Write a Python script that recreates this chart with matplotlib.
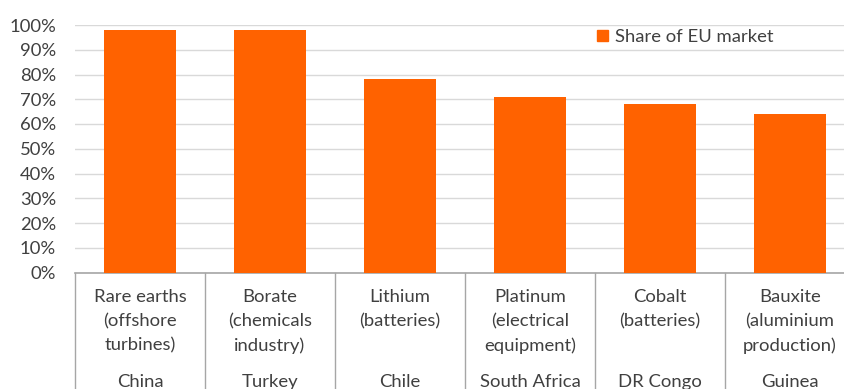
import matplotlib
matplotlib.use("Agg")
import matplotlib.pyplot as plt
from matplotlib.patches import Patch

materials = ["Rare earths\n(offshore\nturbines)", "Borate\n(chemicals\nindustry)",
             "Lithium\n(batteries)", "Platinum\n(electrical\nequipment)",
             "Cobalt\n(batteries)", "Bauxite\n(aluminium\nproduction)"]
countries = ["China", "Turkey", "Chile", "South Africa", "DR Congo", "Guinea"]
share = [98, 98, 78, 71, 68, 64]
yticks = list(range(0, 101, 10))

ORANGE = "#ff6200"
TEXT = "#404040"
GRID = "#d9d9d9"
AXIS = "#a6a6a6"
FS = 13.3

plt.rcParams["font.family"] = ["Lato", "DejaVu Sans"]

W, H = 844, 389
fig = plt.figure(figsize=(W / 100, H / 100), dpi=100)
left, right_px, top_px, bottom_px = 75, 855, 25, 272.5
ax = fig.add_axes([left / W, (H - bottom_px) / H, (right_px - left) / W, (bottom_px - top_px) / H])

x = list(range(len(share)))
ax.bar(x, share, width=0.55, color=ORANGE, zorder=3)
ax.set_xlim(-0.5, len(share) - 0.5)
ax.set_ylim(0, 100)
ax.set_yticks(yticks)
ax.set_yticklabels([f"{v}%" for v in yticks], fontsize=FS, color=TEXT)
ax.yaxis.grid(True, color=GRID, linewidth=1, zorder=0)
ax.tick_params(axis="y", length=0, pad=13.5)
ax.tick_params(axis="x", length=0, labelbottom=False)
for s in ["top", "right", "left"]:
    ax.spines[s].set_visible(False)
ax.spines["bottom"].set_color(AXIS)
ax.spines["bottom"].set_linewidth(1.2)

# category table below the axis
trans = ax.get_xaxis_transform()
for b in [i - 0.5 for i in range(len(share) + 1)]:
    ax.plot([b, b], [0, -0.6], color=AXIS, linewidth=1, transform=trans, clip_on=False)
px = 1.0 / (bottom_px - top_px)
for i, (m, c) in enumerate(zip(materials, countries)):
    ax.text(i, -(289 - bottom_px) * px, m, transform=trans, ha="center", va="top",
            fontsize=FS, color=TEXT, linespacing=1.62)
    ax.text(i, -(374 - bottom_px) * px, c, transform=trans, ha="center", va="top",
            fontsize=FS, color=TEXT)

ax.legend(handles=[Patch(color=ORANGE, label="Share of EU market")], loc="upper left",
          bbox_to_anchor=((597 - left) / (right_px - left), 1.0 - (29 - top_px) * px),
          frameon=False, fontsize=FS, handlelength=0.6, handleheight=0.6,
          handletextpad=0.4, borderaxespad=0, borderpad=0, labelcolor=TEXT)

fig.savefig("out.png", dpi=100)
